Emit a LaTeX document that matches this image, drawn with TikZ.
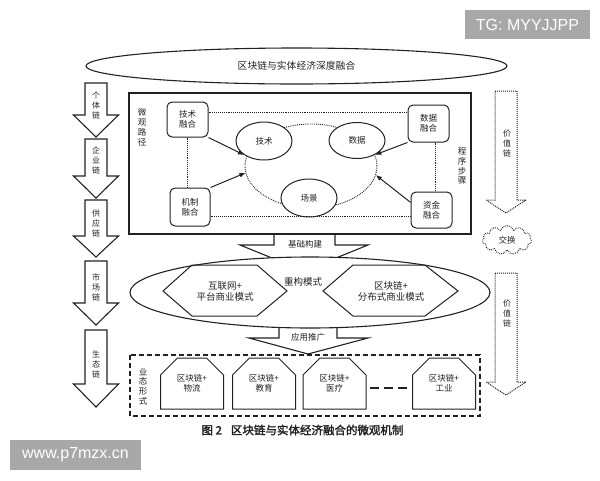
\documentclass[tikz,border=0pt]{standalone}
\usepackage{fontspec}
\setmainfont{Noto Sans CJK SC}
\newfontfamily\wmfont{Liberation Sans}
\newfontfamily\capfont[FakeBold=2]{Noto Sans CJK SC}
\usetikzlibrary{shapes.geometric,shapes.misc,shapes.symbols,arrows.meta}
\definecolor{wmgray}{HTML}{A8A8A8}
\definecolor{ink}{HTML}{222222}
\newcommand\blkarrow[7]{%
  \draw[#1] (#2-#6,#3) -- (#2+#6,#3) -- (#2+#6,#4) -- (#2+#7,#4) -- (#2,#5) -- (#2-#7,#4) -- (#2-#6,#4) -- cycle;}
\begin{document}
\begin{tikzpicture}[x=1pt,y=-1pt,
  sarrow/.style={draw=ink, line width=1.1pt, fill=white, line join=miter},
  darrow/.style={draw=ink, line width=1pt, densely dotted, fill=white},
  vtext/.style={align=center, inner sep=0pt, font=\fontsize{8}{10}\selectfont, text=ink},
  txt/.style={align=center, inner sep=0pt, font=\fontsize{8.5}{10}\selectfont, text=ink},
  rbox/.style={draw=ink, line width=1pt, rounded corners=5pt, fill=white, minimum width=41pt, minimum height=36pt, txt},
  ell/.style={ellipse, draw=ink, line width=1pt, fill=white, minimum width=56pt, minimum height=38pt, inner sep=0pt, font=\fontsize{8.5}{10}\selectfont, text=ink},
  dline/.style={draw=ink, line width=0.9pt, densely dotted},
  parrow/.style={draw=ink, line width=1pt, -{Latex[length=6pt,width=5pt]}},
  cbox/.style={chamfered rectangle, chamfered rectangle corners={north west,north east}, chamfered rectangle xsep=8pt, chamfered rectangle ysep=9pt, draw=ink, line width=1pt, minimum width=63pt, minimum height=51pt, inner sep=0pt, align=center, font=\fontsize{8.5}{10}\selectfont, text=ink},
  wm/.style={font=\wmfont\fontsize{16}{16}\selectfont, text=white, inner sep=0pt}
]
\useasboundingbox (0,0) rectangle (600,480);
% watermarks
\fill[wmgray] (465,10) rectangle (590,39);
\node[wm] (wm1) at (527.5,24.5) {TG: MYYJJPP};
\fill[wmgray] (10,440) rectangle (141,470);
\node[wm] (wm2) at (75.5,455) {www.p7mzx.cn};
% top ellipse
\node[ellipse, draw=ink, line width=1.1pt, minimum width=421pt, minimum height=36pt, font=\fontsize{9.8}{10}\selectfont, text=ink] (top) at (296.5,66) {区块链与实体经济深度融合};
% left chain arrows
\blkarrow{sarrow}{96}{83}{115}{137}{11}{22.5}
\blkarrow{sarrow}{96}{139}{176}{198}{11}{22.5}
\blkarrow{sarrow}{96}{200}{236}{257}{11}{22.5}
\blkarrow{sarrow}{96}{261}{303}{325}{11}{22.5}
\blkarrow{sarrow}{96}{330}{384}{407}{11}{22.5}
\node[vtext] (c1) at (96,105) {个\\体\\链};
\node[vtext] (c2) at (96,160) {企\\业\\链};
\node[vtext] (c3) at (96,223) {供\\应\\链};
\node[vtext] (c4) at (96,287) {市\\场\\链};
\node[vtext] (c5) at (96,364) {生\\态\\链};
% right value chain arrows
\blkarrow{darrow}{506}{91}{200}{213}{11}{20}
\blkarrow{darrow}{506}{273}{382}{395}{11}{20}
\node[vtext] (v1) at (507,143) {价\\值\\链};
\node[vtext] (v2) at (507,313) {价\\值\\链};
\node[cloud, cloud puffs=11, aspect=1.7, draw=ink, densely dotted, line width=0.9pt, minimum width=49pt, minimum height=29pt, inner sep=0pt, font=\fontsize{8.5}{10}\selectfont, text=ink] (jh) at (507,240) {交换};
% arrow 基础构建 (drawn before ellipse)
\draw[sarrow] (274,234) -- (274,245) -- (240,245) -- (304,271) -- (368,245) -- (335,245) -- (335,234);
\node[txt] (jcgj) at (305,244) {基础构建};
% arrow 应用推广
\draw[sarrow] (279,320) -- (279,338) -- (249,338) -- (308,354) -- (368,338) -- (337,338) -- (337,320);
\node[txt] (yytg) at (308,337) {应用推广};
% main micro path rectangle
\node[draw=ink, line width=1.1pt, minimum width=342pt, minimum height=141pt, inner sep=0pt] (micro) at (300,163.5) {};
\node[vtext, font=\fontsize{8.5}{10}\selectfont] (wglj) at (142,127) {微\\观\\路\\径};
\node[vtext, font=\fontsize{8.5}{9.7}\selectfont] (cxbz) at (462,166) {程\\序\\步\\骤};
% dotted ring
\node[ellipse, dline, minimum width=132pt, minimum height=84pt, inner sep=0pt] (ring) at (311,166) {};
% ellipses
\node[ell] (js) at (264,141) {技术};
\node[ell, minimum height=36pt] (sj) at (357,140.5) {数据};
\node[ell] (cj) at (309,198) {场景};
% rounded boxes
\node[rbox, minimum height=35pt] (jsrh) at (187.5,119.5) {技术\\融合};
\node[rbox, minimum width=40pt, minimum height=38pt] (jzrh) at (190,207) {机制\\融合};
\node[rbox, minimum height=37pt] (sjrh) at (428.5,123.5) {数据\\融合};
\node[rbox] (zjrh) at (431.5,210) {资金\\融合};
% dotted links between boxes
\coordinate (ytop) at (0,112);
\coordinate (ybot) at (0,216);
\coordinate (xr) at (435,0);
\draw[dline] (jsrh.east |- ytop) -- (sjrh.west |- ytop);
\draw[dline] (jzrh.east |- ybot) -- (zjrh.west |- ybot);
\draw[dline] (jsrh.south) -- (jsrh.south |- jzrh.north);
\draw[dline] (xr |- sjrh.south) -- (xr |- zjrh.north);
% arrows into the ring
\draw[parrow] (jsrh.south east) -- (js.215);
\draw[parrow] (jzrh.north east) -- (ring.186);
\draw[parrow] (sjrh.south west) -- (sj.322);
\draw[parrow] (zjrh.160) -- (ring.-8);
% big ellipse 重构模式
\node[ellipse, draw=ink, line width=1.1pt, fill=white, minimum width=360pt, minimum height=71pt] (remodel) at (310,292.5) {};
\draw[draw=ink, line width=1pt] (163,291) -- (192,265) -- (257,265) -- (287,291) -- (257,316) -- (192,316) -- cycle;
\draw[draw=ink, line width=1pt] (323,291) -- (353,265) -- (425,265) -- (458,291) -- (425,316) -- (353,316) -- cycle;
\node[txt, font=\fontsize{9.5}{11}\selectfont] (hex1) at (225,291) {互联网+\\平台商业模式};
\node[txt, font=\fontsize{9.5}{11}\selectfont] (hex2) at (391,291) {区块链+\\分布式商业模式};
\node[txt, font=\fontsize{9.5}{10}\selectfont] (cgms) at (303,282) {重构模式};
% dashed business-form rectangle
\draw[draw=ink, line width=1.3pt, dash pattern=on 5pt off 3pt] (130,355) rectangle (480,416);
\node[vtext, font=\fontsize{8.5}{9.7}\selectfont] (ytxs) at (143,386.5) {业\\态\\形\\式};
\node[cbox] (b1) at (192,383.5) {区块链+\\物流};
\node[cbox] (b2) at (264,383.5) {区块链+\\教育};
\node[cbox] (b3) at (334.5,383.5) {区块链+\\医疗};
\node[cbox] (b4) at (444,383.5) {区块链+\\工业};
\draw[draw=ink, line width=1.5pt, dash pattern=on 9pt off 5pt, shorten <=3pt, shorten >=5pt] ([yshift=-4.5pt]b3.east) -- ([yshift=-4.5pt]b4.west);
% caption
\node[font=\capfont\fontsize{11.5}{12}\selectfont, text=ink, inner sep=0pt] (cap) at (302.5,430) {图 2\hspace{9pt}区块链与实体经济融合的微观机制};
\end{tikzpicture}
\end{document}
